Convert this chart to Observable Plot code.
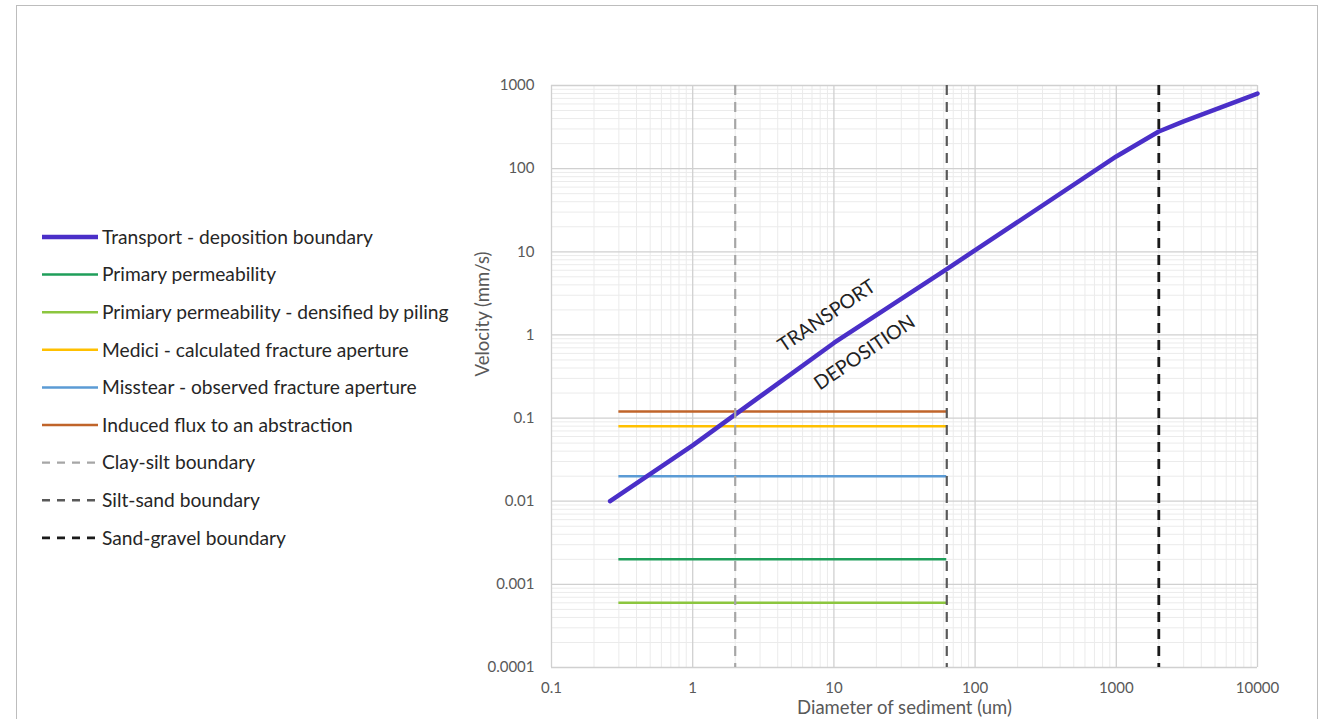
<!DOCTYPE html>
<html><head><meta charset="utf-8">
<script src="https://cdn.jsdelivr.net/npm/d3@7"></script>
<script src="https://cdn.jsdelivr.net/npm/@observablehq/plot@0.6"></script>
<style>
body{margin:0;background:#fff;font-family:Lato, sans-serif;}
#wrap{position:relative;width:1327px;height:719px;overflow:hidden;}
#border{position:absolute;left:16px;top:5px;width:1302px;height:800px;border:1.5px solid #bdbdbd;box-sizing:border-box;pointer-events:none;}
#chart{position:absolute;left:0;top:0;}
#legend{position:absolute;left:0;top:0;}
</style></head>
<body>
<div id="wrap"><div id="chart"></div><svg id="legend" width="470" height="719"></svg><div id="border"></div></div>
<script>
// ---- data ----
const transportX = [0.26, 1, 10, 63, 1000, 2000, 3000, 10000];
const transportY = [0.01, 0.047, 0.8, 6.2, 140, 280, 370, 800];
const transportName = "Transport - deposition boundary";
const transportColor = "#4a2fc8";

const fluxNames = ["Primary permeability", "Primiary permeability - densified by piling", "Medici - calculated fracture aperture", "Misstear - observed fracture aperture", "Induced flux to an abstraction"];
const fluxValues = [0.002, 0.0006, 0.08, 0.02, 0.12];
const fluxColors = ["#1f9e5a", "#8cc63f", "#ffc000", "#5b9bd5", "#c0642a"];
const fluxStart = 0.3;
const fluxEnd = 63;

const boundaryNames = ["Clay-silt boundary", "Silt-sand boundary", "Sand-gravel boundary"];
const boundaryValues = [2, 63, 2000];
const boundaryColors = ["#a6a6a6", "#595959", "#1a1a1a"];

const xTicks = [0.1, 1, 10, 100, 1000, 10000];
const yTicks = [0.0001, 0.001, 0.01, 0.1, 1, 10, 100, 1000];

const annoText = ["TRANSPORT", "DEPOSITION"];
const annoX = [8.9, 16.5];
const annoY = [1.69, 0.61];

const xLabel = "Diameter of sediment (um)";
const yLabel = "Velocity (mm/s)";

// ---- minor grid values (per decade 2..9) ----
const minor = (ticks) => ticks.slice(0, -1).flatMap(t => d3.range(2, 10).map(k => k * t));
const xMinor = minor(xTicks);
const yMinor = minor(yTicks);

const transport = transportX.map((x, i) => ({x, y: transportY[i]}));
const fluxIdx = d3.range(fluxValues.length);
const bIdx = d3.range(boundaryValues.length);
const anno = annoText.map((t, i) => ({t, x: annoX[i], y: annoY[i]}));

const chart = Plot.plot({
  width: 1327, height: 719,
  marginLeft: 551, marginRight: 70, marginTop: 85, marginBottom: 52,
  style: {background: "transparent", fontFamily: "Lato, sans-serif", overflow: "visible"},
  x: {type: "log", domain: [0.1, 10000]},
  y: {type: "log", domain: [0.0001, 1000]},
  marks: [
    Plot.ruleX(xMinor, {stroke: "#ebebeb", strokeWidth: 1}),
    Plot.ruleY(yMinor, {stroke: "#ebebeb", strokeWidth: 1}),
    Plot.ruleX(xTicks, {stroke: "#d0d0d0", strokeWidth: 1.3}),
    Plot.ruleY(yTicks, {stroke: "#d0d0d0", strokeWidth: 1.3}),
    Plot.axisX(xTicks, {tickSize: 0, tickPadding: 15, fontSize: 15, fill: "#595959", label: null, tickFormat: d => String(d)}),
    Plot.axisY(yTicks, {tickSize: 0, tickPadding: 17, fontSize: 15, fill: "#595959", label: null, tickFormat: d => String(d)}),
    Plot.text([xLabel], {frameAnchor: "bottom", dy: 46, fontSize: 18.5, fill: "#595959"}),
    Plot.text([yLabel], {frameAnchor: "left", dx: -68, rotate: -90, fontSize: 18.5, fill: "#595959"}),
    Plot.ruleY(fluxIdx, {y: i => fluxValues[i], x1: fluxStart, x2: fluxEnd, stroke: i => fluxColors[i], strokeWidth: 2.5}),
    Plot.line(transport, {x: "x", y: "y", stroke: transportColor, strokeWidth: 4.5}),
    Plot.ruleX(bIdx, {x: i => boundaryValues[i], stroke: i => boundaryColors[i], strokeWidth: i => i === 2 ? 2.8 : 2.2, strokeDasharray: "10,7"}),
    Plot.text(anno, {x: "x", y: "y", text: "t", rotate: -34, fontSize: 19.5, fill: "#222"})
  ]
});
document.getElementById("chart").appendChild(chart);

// ---- legend ----
const legendItems = [
  {name: transportName, color: transportColor, w: 4.5, dash: null},
  ...fluxNames.map((n, i) => ({name: n, color: fluxColors[i], w: 2.5, dash: null})),
  ...boundaryNames.map((n, i) => ({name: n, color: boundaryColors[i], w: i === 2 ? 2.8 : 2.4, dash: "8,7"}))
];
const leg = d3.select("#legend");
legendItems.forEach((d, i) => {
  const y = 237 + i * 37.6;
  leg.append("line").attr("x1", 42).attr("x2", 98).attr("y1", y).attr("y2", y)
    .attr("stroke", d.color).attr("stroke-width", d.w).attr("stroke-dasharray", d.dash);
  leg.append("text").attr("x", 102).attr("y", y).attr("dy", "0.35em")
    .attr("font-size", 19.2).attr("fill", "#262626").attr("font-family", "Lato, sans-serif").text(d.name);
});
</script>
</body></html>
